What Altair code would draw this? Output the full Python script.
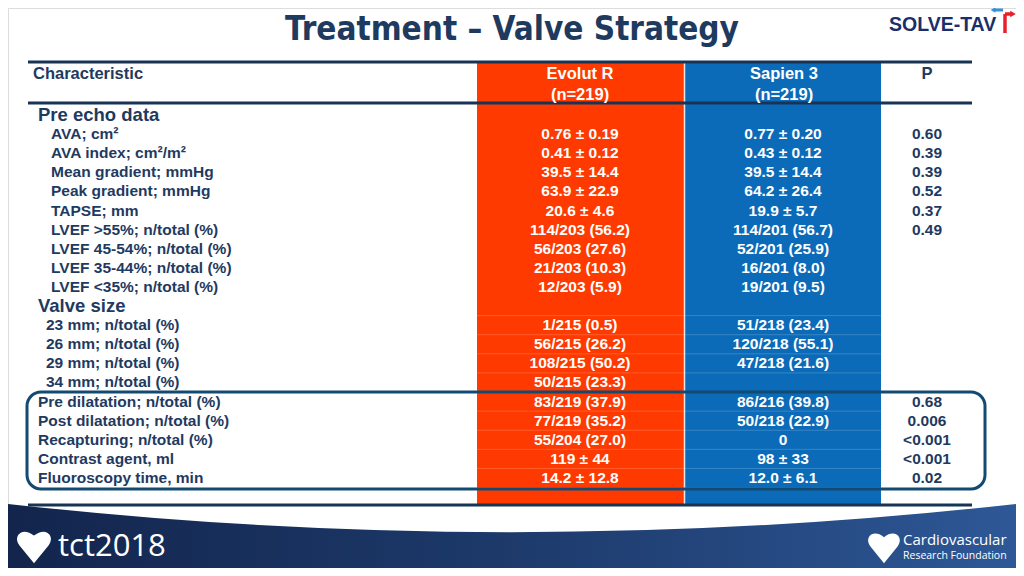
import altair as alt
import pandas as pd
import math

# ---------------- data ----------------
section_titles = ["Pre echo data", "Valve size"]
echo_labels = ["AVA; cm²", "AVA index; cm²/m²", "Mean gradient; mmHg", "Peak gradient; mmHg",
               "TAPSE; mm", "LVEF >55%; n/total (%)", "LVEF 45-54%; n/total (%)",
               "LVEF 35-44%; n/total (%)", "LVEF <35%; n/total (%)"]
echo_evolut = ["0.76 ± 0.19", "0.41 ± 0.12", "39.5 ± 14.4", "63.9 ± 22.9", "20.6 ± 4.6",
               "114/203 (56.2)", "56/203 (27.6)", "21/203 (10.3)", "12/203 (5.9)"]
echo_sapien = ["0.77 ± 0.20", "0.43 ± 0.12", "39.5 ± 14.4", "64.2 ± 26.4", "19.9 ± 5.7",
               "114/201 (56.7)", "52/201 (25.9)", "16/201 (8.0)", "19/201 (9.5)"]
echo_p = ["0.60", "0.39", "0.39", "0.52", "0.37", "0.49", "", "", ""]

valve_labels = ["23 mm; n/total (%)", "26 mm; n/total (%)", "29 mm; n/total (%)", "34 mm; n/total (%)"]
valve_evolut = ["1/215 (0.5)", "56/215 (26.2)", "108/215 (50.2)", "50/215 (23.3)"]
valve_sapien = ["51/218 (23.4)", "120/218 (55.1)", "47/218 (21.6)", ""]
valve_p = ["", "", "", ""]

proc_labels = ["Pre dilatation; n/total (%)", "Post dilatation; n/total (%)", "Recapturing; n/total (%)",
               "Contrast agent, ml", "Fluoroscopy time, min"]
proc_evolut = ["83/219 (37.9)", "77/219 (35.2)", "55/204 (27.0)", "119 ± 44", "14.2 ± 12.8"]
proc_sapien = ["86/216 (39.8)", "50/218 (22.9)", "0", "98 ± 33", "12.0 ± 6.1"]
proc_p = ["0.68", "0.006", "<0.001", "<0.001", "0.02"]

header_cols = ["Characteristic", "Evolut R", "Sapien 3", "P"]
header_n = ["", "(n=219)", "(n=219)", ""]
title_text = "Treatment – Valve Strategy"

# ---------------- table frame ----------------
rows = []
r = 0
rows.append(dict(row=r, group="section", label=section_titles[0], evolut="", sapien="", p=""))
r += 1
for i in range(len(echo_labels)):
    rows.append(dict(row=r, group="echo", label=echo_labels[i], evolut=echo_evolut[i],
                     sapien=echo_sapien[i], p=echo_p[i]))
    r += 1
rows.append(dict(row=r, group="section", label=section_titles[1], evolut="", sapien="", p=""))
r += 1
for i in range(len(valve_labels)):
    rows.append(dict(row=r, group="valve", label=valve_labels[i], evolut=valve_evolut[i],
                     sapien=valve_sapien[i], p=valve_p[i]))
    r += 1
for i in range(len(proc_labels)):
    rows.append(dict(row=r, group="proc", label=proc_labels[i], evolut=proc_evolut[i],
                     sapien=proc_sapien[i], p=proc_p[i]))
    r += 1
df = pd.DataFrame(rows)
last_row = r - 1
sep_df = pd.DataFrame({"row": [x + 0.5 for x in range(10, last_row + 1)]})

one = pd.DataFrame({"k": [0]})

def P(v):  # page pixel -> chart pixel (8px body margin)
    return v - 8

NAVY = "#1f3a5f"
LINE = "#173456"
ORANGE = "#ff3a00"
BLUE = "#0b6bb8"
FONT = "Liberation Sans"

Y = alt.Y("row:Q", scale=alt.Scale(domain=[0, 19], range=[P(115), P(478)], nice=False, zero=False), axis=None)

def rule(x1, x2, y1, y2=None, color=LINE, width=3):
    enc = dict(x=alt.value(P(x1)), x2=alt.value(P(x2)), y=alt.value(P(y1)))
    if y2 is not None:
        enc["y2"] = alt.value(P(y2))
    return alt.Chart(one).mark_rule(color=color, strokeWidth=width).encode(**enc)

def rect(x1, x2, y1, y2, **kw):
    return alt.Chart(one).mark_rect(**kw).encode(
        x=alt.value(P(x1)), x2=alt.value(P(x2)), y=alt.value(P(y1)), y2=alt.value(P(y2)))

def label(text, x, y, **kw):
    return alt.Chart(one).mark_text(text=text, **kw).encode(x=alt.value(P(x)), y=alt.value(P(y)))

def symbol(shape, x, y, size, color):
    return alt.Chart(one).mark_point(shape=shape, size=size, filled=True, fill=color,
                                     opacity=1, strokeWidth=0).encode(
        x=alt.value(P(x)), y=alt.value(P(y)))

layers = []

# footer band: a thin ring wedge of a large circle, so its top edge is curved
grad = alt.LinearGradient(gradient="linear",
                          stops=[alt.GradientStop(color="#12234a", offset=0.05),
                                 alt.GradientStop(color="#1d3a6b", offset=0.5),
                                 alt.GradientStop(color="#2f5a9a", offset=0.95)],
                          x1=0, x2=1, y1=0, y2=0)
R_CAP = 4534
layers.append(alt.Chart(one).mark_arc(theta=math.pi - 0.13, theta2=math.pi + 0.13,
                                      radius=R_CAP + 140, radius2=R_CAP, color=grad).encode(
    x=alt.value(P(512)), y=alt.value(P(532 - R_CAP))))

# coloured columns
layers.append(rect(477, 684, 62, 505, color=ORANGE))
layers.append(rect(685, 881, 62, 505, color=BLUE))
layers.append(rule(684.5, 684.5, 62, 505, color="#f4e6e0", width=1.5))
layers.append(alt.Chart(sep_df).mark_rule(color="white", opacity=0.18, strokeWidth=1).encode(
    x=alt.value(P(477)), x2=alt.value(P(881)), y=Y))

# horizontal rules
layers.append(rule(28, 972, 62))
layers.append(rule(28, 972, 103))
layers.append(rule(28, 972, 505))

# title
layers.append(label(title_text, 512, 30, font="DejaVu Sans Condensed, Liberation Sans", fontSize=33,
                    fontWeight="bold", color=NAVY, align="center", baseline="middle"))
# logo
layers.append(label("SOLVE-TAV", 889, 25, font=FONT, fontSize=19.5, fontWeight="bold",
                    color="#1a2f6a", align="left", baseline="middle"))
layers.append(rule(1005, 1005, 14, 33, color="#e8202a", width=3.5))
layers.append(rule(1005, 1011, 14, color="#e8202a", width=3.5))
layers.append(symbol("triangle-right", 1013, 14, 40, "#e8202a"))
layers.append(rule(995, 1003, 10, color="#3a8fd8", width=3))
layers.append(symbol("triangle-left", 993, 10, 30, "#3a8fd8"))

# header
HS = 16.5
layers.append(label(header_cols[0], 33, 74, font=FONT, fontSize=HS, fontWeight="bold",
                    color=NAVY, align="left"))
layers.append(label(header_cols[1], 580, 74, font=FONT, fontSize=HS, fontWeight="bold",
                    color="white", align="center"))
layers.append(label(header_n[1], 580, 95, font=FONT, fontSize=HS, fontWeight="bold",
                    color="white", align="center"))
layers.append(label(header_cols[2], 784, 74, font=FONT, fontSize=HS, fontWeight="bold",
                    color="white", align="center"))
layers.append(label(header_n[2], 784, 95, font=FONT, fontSize=HS, fontWeight="bold",
                    color="white", align="center"))
layers.append(label(header_cols[3], 927, 74, font=FONT, fontSize=HS, fontWeight="bold",
                    color=NAVY, align="center"))

# row labels
label_x = {"section": 38, "echo": 51, "valve": 46, "proc": 38}
label_size = {"section": 18.5, "echo": 15.5, "valve": 15.5, "proc": 15.5}
for g in ["section", "echo", "valve", "proc"]:
    layers.append(alt.Chart(df).transform_filter(alt.datum.group == g).mark_text(
        font=FONT, fontSize=label_size[g], fontWeight="bold", color=NAVY, align="left",
        baseline="middle").encode(x=alt.value(P(label_x[g])), y=Y, text="label:N"))

# values
for field, x, col in [("evolut", 580, "white"), ("sapien", 783, "white"), ("p", 927, NAVY)]:
    layers.append(alt.Chart(df).mark_text(
        font=FONT, fontSize=15.5, fontWeight="bold", color=col, align="center",
        baseline="middle").encode(x=alt.value(P(x)), y=Y, text=f"{field}:N"))

# highlight box
layers.append(rect(27, 985, 392, 489, filled=False, stroke="#134a72", strokeWidth=3,
                   cornerRadius=14))

# footer logos
heart = "M0,1 L-0.85,-0.05 C-1.25,-0.6 -0.65,-1.15 0,-0.6 C0.65,-1.15 1.25,-0.6 0.85,-0.05 Z"
layers.append(symbol(heart, 34, 546, 1200, "white"))
layers.append(label("tct2018", 58, 547, font="Open Sans", fontSize=31, color="white",
                    align="left", baseline="middle"))
layers.append(symbol(heart, 884, 547, 1050, "white"))
layers.append(label("Cardiovascular", 903, 540, font="Open Sans", fontSize=15, color="white",
                    align="left", baseline="middle"))
layers.append(label("Research Foundation", 903, 556, font="Open Sans", fontSize=10.5,
                    color="white", align="left", baseline="middle"))

chart = alt.layer(*layers).properties(
    width=1008, height=560, autosize="none", padding=0
).configure_view(stroke=None).configure(background="white")

chart.save("out.html", embed_options={"renderer": "svg", "actions": False})
